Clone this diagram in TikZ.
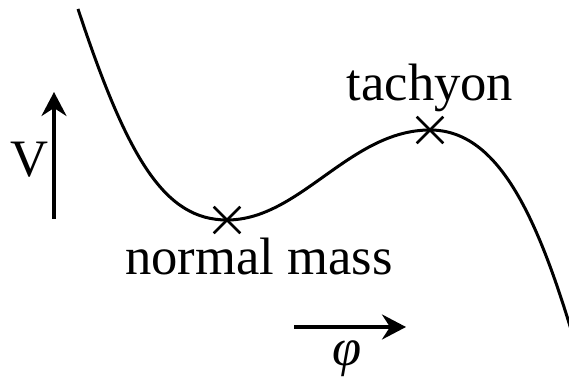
\documentclass[tikz,border=0pt]{standalone}
\usepackage{fontspec}
\setmainfont{Liberation Serif}
\usetikzlibrary{arrows.meta,shapes.misc}
\tikzset{
  every picture/.style={font=\fontsize{26.3}{30}\selectfont},
  pot/.style={line width=1.5pt},
  extremum/.style={cross out,draw,line width=1.3pt,minimum size=12pt,inner sep=0pt},
  axisarrow/.style={line width=1.8pt,-{Stealth[length=12pt,width=12.5pt,inset=4pt]}},
}

\begin{document}
\begin{tikzpicture}[x=0.5pt,y=-0.5pt]
  \useasboundingbox (0,0) rectangle (569,378);
  \clip (0,0) rectangle (569,378);
  % potential
  \draw[pot] (78,9) .. controls (128,160) and (165,220) .. (227,220)
    .. controls (300,220) and (350,130) .. (430,130)
    .. controls (500,130) and (540,220) .. (580,360);
  % extrema
  \node[extremum] (normal) at (227,220) {};
  \node[extremum] (tach) at (430,130) {};
  \node[anchor=base] (normallabel) at (259,275) {normal mass};
  \node[anchor=base] (tachlabel) at (430,101) {tachyon};
  % axes
  \coordinate (vfrom) at (54,219);
  \coordinate (vto) at (54,92);
  \draw[axisarrow] (vfrom) -- (vto);
  \node[anchor=base] (vlabel) at (29,177) {V};
  \coordinate (pfrom) at (294,327);
  \coordinate (pto) at (406,327);
  \draw[axisarrow] (pfrom) -- (pto);
  \node[anchor=base] (philabel) at (347,366) {\itshape φ};
\end{tikzpicture}
\end{document}
